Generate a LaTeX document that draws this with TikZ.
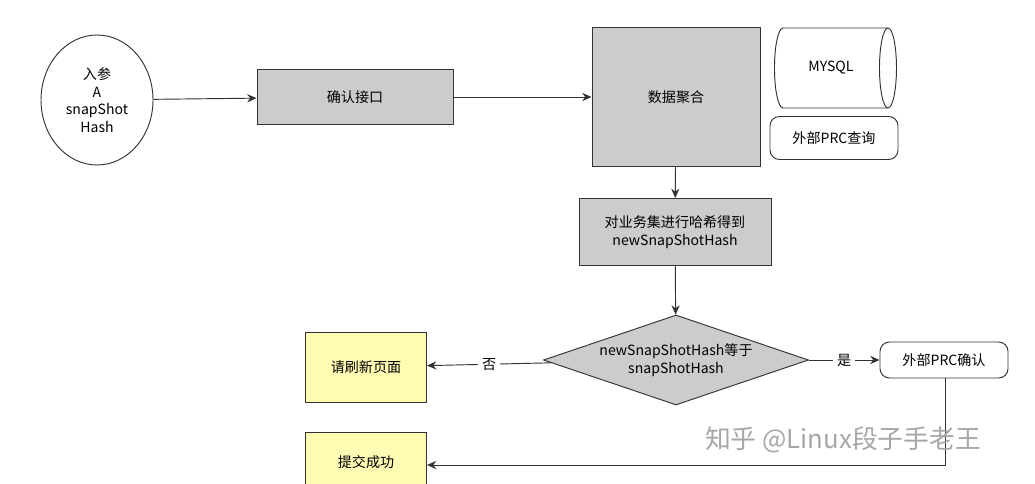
\documentclass[tikz,border=0pt]{standalone}
\usepackage{fontspec}
\setmainfont{Noto Sans CJK SC}
\usetikzlibrary{shapes.geometric,arrows.meta}
\tikzset{
  box/.style={draw=black!80, thick, fill=black!20, align=center, inner sep=0pt},
  note/.style={draw=black!80, thick, fill=yellow!30, align=center, inner sep=0pt},
  pill/.style={draw=black!80, thick, rounded corners=8pt, fill=white, align=center, inner sep=0pt},
  flow/.style={thick, draw=black!80, -{Stealth[length=8pt,width=7pt]}}
}
\begin{document}
\begin{tikzpicture}[x=0.03cm, y=-0.03cm, font=\fontsize{12}{15}\selectfont]
    \useasboundingbox (0,0) rectangle (1035,484);
    \node[ellipse,draw=black!80,thick,fill=white,minimum width=112*0.03cm,minimum height=130*0.03cm,align=center,inner sep=0pt] (in) at (97,100) {入参\\A\\snapShot\\Hash};
    \node[box, minimum width=196*0.03cm, minimum height=55*0.03cm] (check) at (355,97) {确认接口};
    \node[box, minimum width=168*0.03cm, minimum height=139*0.03cm] (agg) at (676,97) {数据聚合};
    \node[cylinder,draw=black!80,thick,fill=white,aspect=1.3,minimum width=80*0.03cm,minimum height=122*0.03cm,inner sep=0pt] (db) at (831,68) {MYSQL};
    \node[pill, minimum width=128*0.03cm, minimum height=43*0.03cm] (rpc) at (834,138) {外部PRC查询};
    \node[box, minimum width=192*0.03cm, minimum height=67*0.03cm] (hash) at (675,232) {对业务集进行哈希得到\\newSnapShotHash};
    \node[diamond,box,aspect=2.9,minimum width=265*0.03cm,minimum height=90*0.03cm] (eq) at (676,360) {newSnapShotHash等于\\snapShotHash};
    \node[note, minimum width=121*0.03cm, minimum height=70*0.03cm] (refresh) at (366,367) {请刷新页面};
    \node[pill, minimum width=128*0.03cm, minimum height=36*0.03cm] (confirm) at (944,360) {外部PRC确认};
    \node[note, minimum width=121*0.03cm, minimum height=60*0.03cm] (ok) at (366,462) {提交成功};
    \coordinate (bend) at (945,465);
    \draw[flow] (in) -- (check);
    \draw[flow] (check) -- (agg);
    \draw[flow] (agg) -- (hash);
    \draw[flow] (hash) -- (eq);
    \draw[flow] (eq) -- node[fill=white]{否} (refresh);
    \draw[flow] (eq) -- node[fill=white]{是} (confirm);
    \draw[flow] (confirm.south -| bend) -- (bend) -- (ok.east |- bend);
    \node[text=black!35, font=\fontsize{22}{26}\selectfont] (mark) at (843,440) {知乎 @Linux段子手老王};
\end{tikzpicture}
\end{document}
